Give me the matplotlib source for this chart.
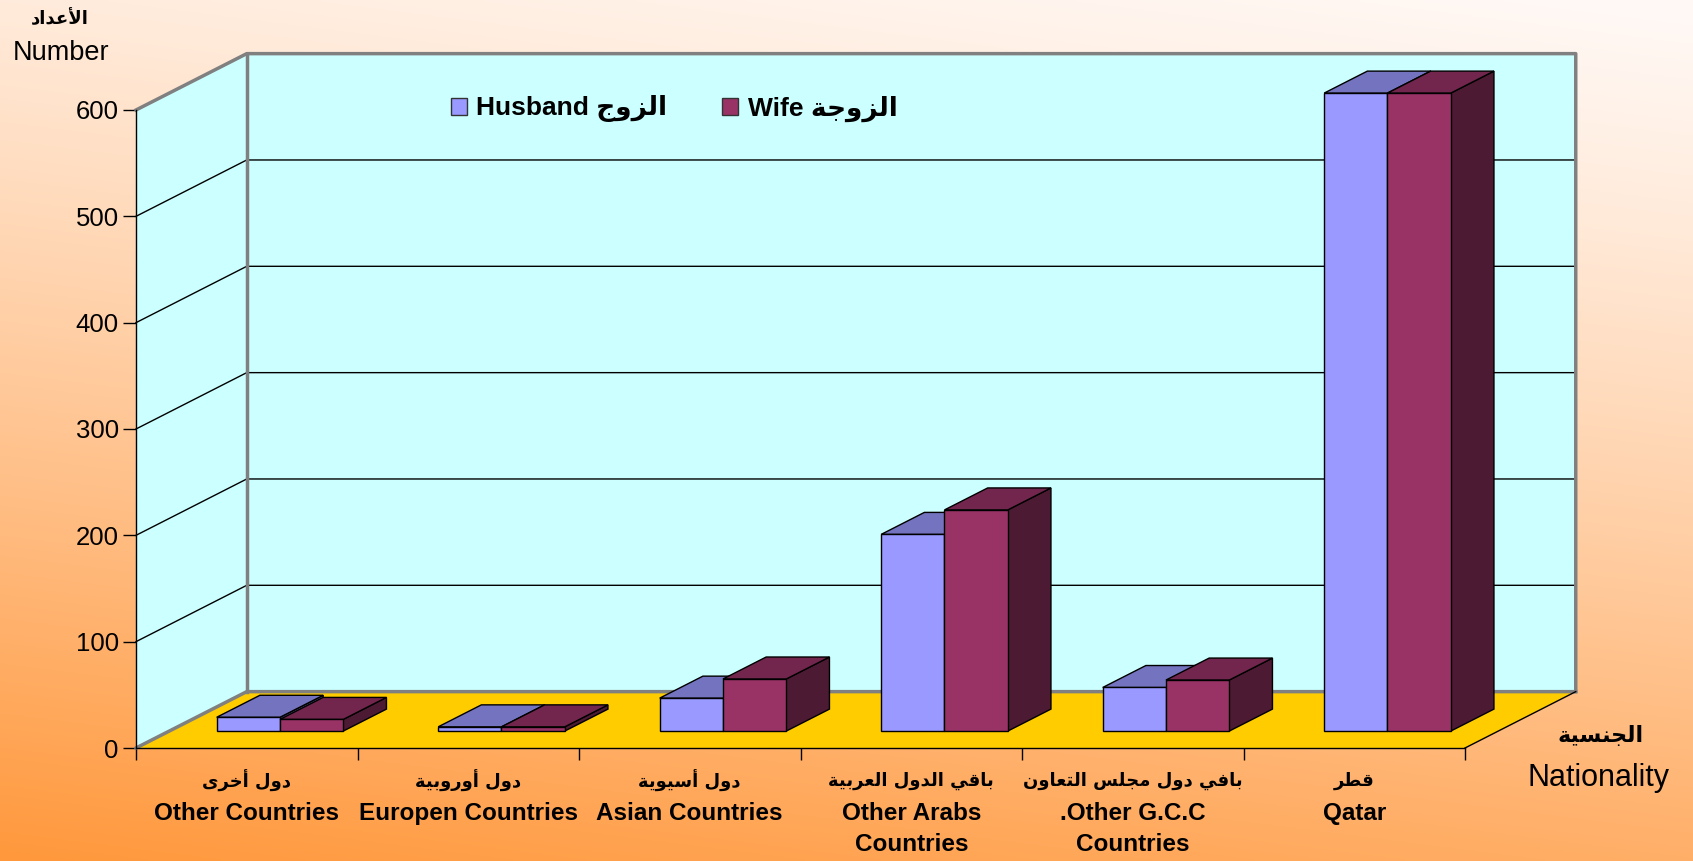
import unicodedata
import numpy as np
import matplotlib
matplotlib.use('Agg')
import matplotlib.pyplot as plt
from matplotlib.patches import Polygon, Patch
from matplotlib.font_manager import FontProperties

# ---- data ----
cats_ar = ['دول أخرى', 'دول أوروبية', 'دول أسيوية', 'باقي الدول العربية',
           'بافي دول مجلس التعاون', 'قطر']
cats_en = ['Other Countries', 'Europen Countries', 'Asian Countries',
           'Other Arabs\nCountries', '.Other G.C.C\nCountries', 'Qatar']
husband = [13, 4, 31, 185, 41, 600]
wife = [11, 4, 49, 208, 48, 600]
series_en = ['Husband', 'Wife']
series_ar = ['الزوج', 'الزوجة']
yticks = [0, 100, 200, 300, 400, 500, 600]

# ---- arabic shaping (matplotlib has no bidi / joining) ----
FORMS = {  # isolated, final, initial, medial
    '\u0627': ('\uFE8D', '\uFE8E', None, None),
    '\u0623': ('\uFE83', '\uFE84', None, None),
    '\u0628': ('\uFE8F', '\uFE90', '\uFE91', '\uFE92'),
    '\u0629': ('\uFE93', '\uFE94', None, None),
    '\u062A': ('\uFE95', '\uFE96', '\uFE97', '\uFE98'),
    '\u062C': ('\uFE9D', '\uFE9E', '\uFE9F', '\uFEA0'),
    '\u062E': ('\uFEA5', '\uFEA6', '\uFEA7', '\uFEA8'),
    '\u062F': ('\uFEA9', '\uFEAA', None, None),
    '\u0631': ('\uFEAD', '\uFEAE', None, None),
    '\u0632': ('\uFEAF', '\uFEB0', None, None),
    '\u0633': ('\uFEB1', '\uFEB2', '\uFEB3', '\uFEB4'),
    '\u0637': ('\uFEC1', '\uFEC2', '\uFEC3', '\uFEC4'),
    '\u0639': ('\uFEC9', '\uFECA', '\uFECB', '\uFECC'),
    '\u0641': ('\uFED1', '\uFED2', '\uFED3', '\uFED4'),
    '\u0642': ('\uFED5', '\uFED6', '\uFED7', '\uFED8'),
    '\u0644': ('\uFEDD', '\uFEDE', '\uFEDF', '\uFEE0'),
    '\u0645': ('\uFEE1', '\uFEE2', '\uFEE3', '\uFEE4'),
    '\u0646': ('\uFEE5', '\uFEE6', '\uFEE7', '\uFEE8'),
    '\u0648': ('\uFEED', '\uFEEE', None, None),
    '\u0649': ('\uFEEF', '\uFEF0', None, None),
    '\u064A': ('\uFEF1', '\uFEF2', '\uFEF3', '\uFEF4'),
}
LAM_ALEF = {'\u0627': ('\uFEFB', '\uFEFC'), '\u0623': ('\uFEF7', '\uFEF8')}


def joins_next(c):
    return c in FORMS and FORMS[c][2] is not None


def ar(text):
    chars = list(unicodedata.normalize('NFC', text))
    out = []
    i = 0
    while i < len(chars):
        c = chars[i]
        if c not in FORMS:
            out.append(c)
            i += 1
            continue
        link_prev = i > 0 and joins_next(chars[i - 1])
        if c == '\u0644' and i + 1 < len(chars) and chars[i + 1] in LAM_ALEF:
            iso, fin = LAM_ALEF[chars[i + 1]]
            out.append(fin if link_prev else iso)
            i += 2
            continue
        nxt = chars[i + 1] if i + 1 < len(chars) else None
        link_next = joins_next(c) and nxt in FORMS
        iso, fin, ini, med = FORMS[c]
        if link_prev and link_next:
            out.append(med)
        elif link_prev:
            out.append(fin)
        elif link_next:
            out.append(ini)
        else:
            out.append(iso)
        i += 1
    return ''.join(reversed(out))


# ---- layout ----
W, H = 1693, 861
DX, DY = 0.5, 53        # depth of the 3d box (category units, value units)
D0, D1 = 0.3, 0.69      # depth range of the bars
BW = 1 / 3.5            # bar width, gap width 150%

HUS = ('#9999FF', '#7373BF', '#4D4D80')   # front, top, side
WIF = ('#993366', '#73264D', '#4D1A33')
CYAN, FLOOR, GRAY = '#CCFFFF', '#FFCC00', '#808080'

plt.rcParams['font.family'] = ['Liberation Sans', 'DejaVu Sans']


def px(x, y):
    return x / W, 1 - y / H


fig = plt.figure(figsize=(W / 100, H / 100), dpi=100)

# background gradient
bg = fig.add_axes([0, 0, 1, 1])
U, V = np.meshgrid(np.linspace(0, 1, 300), np.linspace(0, 1, 300))
t = np.clip(0.8 * V + 0.2 * (1 - U), 0, 1) ** 1.2
c0 = np.array([255, 249, 246]) / 255
c1 = np.array([255, 152, 60]) / 255
bg.imshow(c0 + (c1 - c0) * t[..., None], aspect='auto', extent=[0, 1, 0, 1])
bg.axis('off')

ax = fig.add_axes([136 / W, 113 / H, 1329 / W, 638 / H])
n = len(cats_en)
ymax = yticks[-1]
ax.set_xlim(0, n)
ax.set_ylim(0, ymax)
ax.patch.set_visible(False)


def poly(pts, fc, ec='none', lw=1, z=1):
    ax.add_patch(Polygon(pts, closed=True, fc=fc, ec=ec, lw=lw,
                         clip_on=False, zorder=z))


# walls and floor
poly([(0, 0), (0, ymax), (DX, ymax + DY), (DX, DY)], CYAN)
poly([(DX, DY), (n + DX, DY), (n + DX, ymax + DY), (DX, ymax + DY)], CYAN)
poly([(0, 0), (n, 0), (n + DX, DY), (DX, DY)], FLOOR)
for v in yticks[1:-1]:
    ax.plot([0, DX, n + DX], [v, v + DY, v + DY], color='black', lw=1,
            clip_on=False, zorder=1.5)
ax.plot([0, DX, n + DX, n + DX], [ymax, ymax + DY, ymax + DY, DY],
        color=GRAY, lw=2.5, clip_on=False, zorder=1.6)
ax.plot([DX, DX], [DY, ymax + DY], color=GRAY, lw=2.5, clip_on=False, zorder=1.6)
ax.plot([0, DX, n + DX], [0, DY, DY], color=GRAY, lw=2.5, clip_on=False, zorder=1.6)
ax.plot([n, n + DX], [0, DY], color='black', lw=1, clip_on=False, zorder=1.6)

# bars
dd = D1 - D0
y0 = D0 * DY
for i in range(n):
    for j, (vals, cols) in enumerate([(husband, HUS), (wife, WIF)]):
        x0 = i + (1 - 2 * BW) / 2 + j * BW + D0 * DX
        yt = y0 + vals[i]
        poly([(x0 + BW, y0), (x0 + BW + dd * DX, y0 + dd * DY),
              (x0 + BW + dd * DX, yt + dd * DY), (x0 + BW, yt)],
             cols[2], 'black', 1, 3)
        poly([(x0, yt), (x0 + BW, yt), (x0 + BW + dd * DX, yt + dd * DY),
              (x0 + dd * DX, yt + dd * DY)], cols[1], 'black', 1, 3)
        ax.bar(x0, vals[i], width=BW, bottom=y0, align='edge', color=cols[0],
               edgecolor='black', lw=1, zorder=3, clip_on=False)

# axes
for s in ['top', 'right']:
    ax.spines[s].set_visible(False)
for s in ['left', 'bottom']:
    ax.spines[s].set_linewidth(1)
    ax.spines[s].set_zorder(4)
ax.set_yticks(yticks)
ax.set_xticks(range(n + 1))
ax.set_xticklabels([])
ax.tick_params(axis='y', length=9.4, width=1, pad=3, labelsize=18.5)
ax.tick_params(axis='x', length=8.6, width=1)

# category labels
for i in range(n):
    ax.text(i + 0.5, -31, ar(cats_ar[i]), ha='center', va='center',
            fontsize=13, fontweight='bold', family='DejaVu Sans')
    for k, line in enumerate(cats_en[i].split('\n')):
        ax.text(i + 0.5, -62 - 29.2 * k, line, ha='center', va='center',
                fontsize=17.5, fontweight='bold')

# axis titles
fig.text(*px(60, 19), ar('الأعداد'), ha='center', va='center', fontsize=13,
         fontweight='bold', family='DejaVu Sans')
fig.text(*px(61, 53), 'Number', ha='center', va='center', fontsize=19.5)
fig.text(*px(1601, 736), ar('الجنسية'), ha='center', va='center', fontsize=16,
         fontweight='bold', family='DejaVu Sans')
fig.text(*px(1599, 778), 'Nationality', ha='center', va='center', fontsize=22)

# legend
handles = [Patch(fc=HUS[0], ec='#333333', lw=1), Patch(fc=WIF[0], ec='#333333', lw=1)]
labels = [f'{e} {ar(a)}' for e, a in zip(series_en, series_ar)]
ax.legend(handles, labels, loc='center left', bbox_to_anchor=px(451, 109),
          bbox_transform=fig.transFigure, ncol=2, frameon=False,
          prop=FontProperties(family=['Liberation Sans', 'DejaVu Sans'],
                              weight='bold', size=19),
          handlelength=0.6, handleheight=0.6, handletextpad=0.35,
          columnspacing=2.1, borderpad=0, borderaxespad=0)

fig.savefig('out.png', dpi=100)
